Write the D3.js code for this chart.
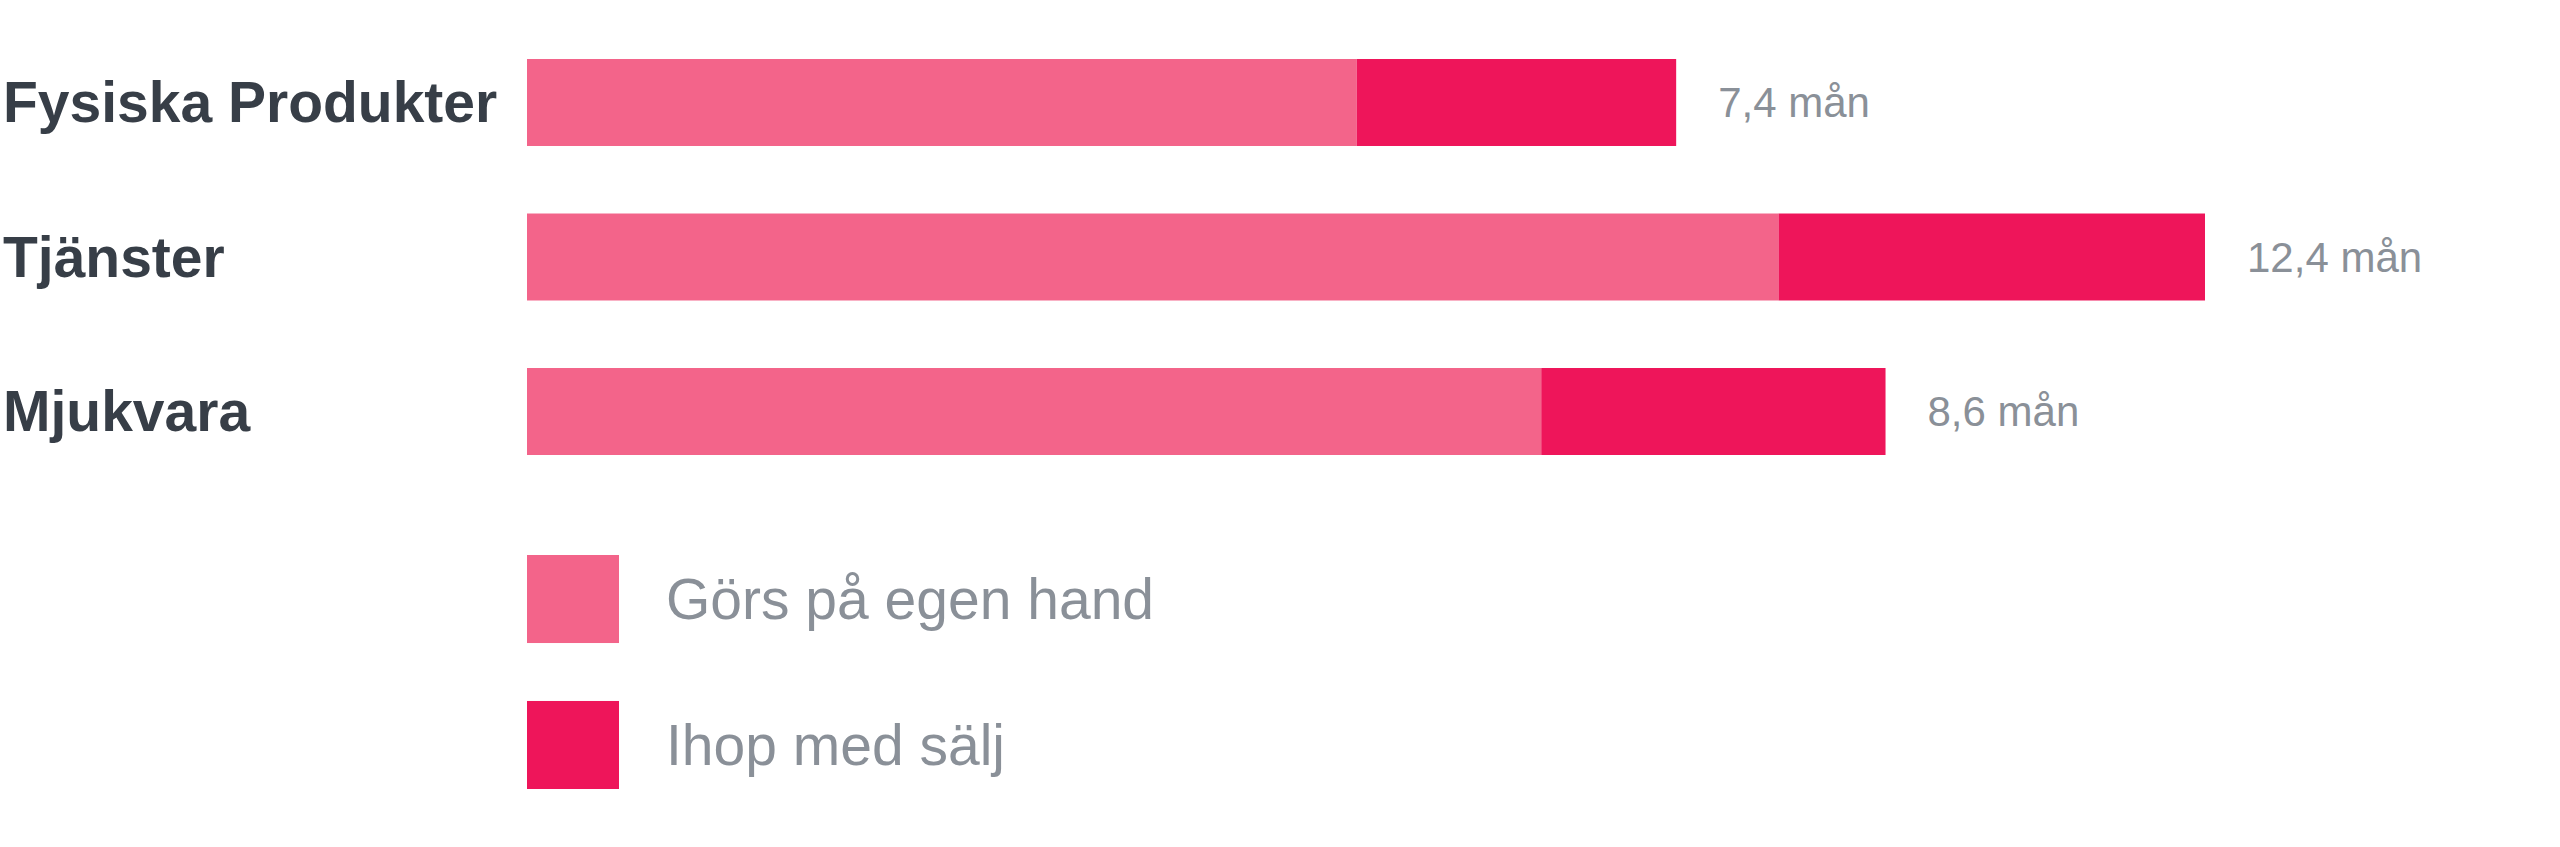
<!DOCTYPE html>
<html>
<head>
<meta charset="utf-8">
<script src="https://cdn.jsdelivr.net/npm/d3@7"></script>
<style>
  body { margin: 0; background: #fff; }
  svg { display: block; font-family: "Liberation Sans", Arial, sans-serif; }
</style>
</head>
<body>
<svg id="chart" width="2560" height="847"></svg>
<script>
// categories, top to bottom
const categories = ["Fysiska Produkter", "Tjänster", "Mjukvara"]
// bar segments (bar length units)
const selfValues = [5.35, 8.07, 6.54]
const salesValues = [2.06, 2.75, 2.22]
// printed totals
const totalLabels = ["7,4 mån", "12,4 mån", "8,6 mån"]
const seriesNames = ["Görs på egen hand", "Ihop med sälj"]
const seriesColors = ["#f3648a", "#ee155a"]

const svg = d3.select("#chart")

const rows = categories.map((c, i) => ({
    cat: c,
    self: selfValues[i],
    sales: salesValues[i],
    label: totalLabels[i]
}))

const stack = d3.stack().keys(["self", "sales"])(rows)

const x = d3.scaleLinear()
    .domain([0, d3.max(rows, d => d.self + d.sales)])
    .range([527, 2205])

const y = d3.scaleBand()
    .domain(categories)
    .range([59, 455])
    .paddingInner(0.437)
    .paddingOuter(0)

const color = d3.scaleOrdinal()
    .domain(["self", "sales"])
    .range(seriesColors)

// bars
svg.append("g")
    .selectAll("g")
    .data(stack)
    .join("g")
    .attr("fill", d => color(d.key))
    .selectAll("rect")
    .data(d => d)
    .join("rect")
    .attr("x", d => x(d[0]))
    .attr("y", d => y(d.data.cat))
    .attr("width", d => x(d[1]) - x(d[0]))
    .attr("height", y.bandwidth())

// category labels
svg.append("g")
    .selectAll("text")
    .data(rows)
    .join("text")
    .attr("x", 3)
    .attr("y", d => y(d.cat) + y.bandwidth() / 2)
    .attr("dy", "0.35em")
    .attr("font-size", 57)
    .attr("font-weight", "bold")
    .attr("fill", "#373e47")
    .text(d => d.cat)

// total labels
svg.append("g")
    .selectAll("text")
    .data(rows)
    .join("text")
    .attr("x", d => x(d.self + d.sales) + 42)
    .attr("y", d => y(d.cat) + y.bandwidth() / 2)
    .attr("dy", "0.35em")
    .attr("font-size", 42)
    .attr("fill", "#8a9098")
    .text(d => d.label)

// legend
const ly = d3.scaleBand()
    .domain(seriesNames)
    .range([555, 789])
    .paddingInner(0.397)
    .paddingOuter(0)

const legend = svg.append("g")
    .selectAll("g")
    .data(seriesNames)
    .join("g")
    .attr("transform", d => `translate(527,${ly(d)})`)

legend.append("rect")
    .attr("width", 92)
    .attr("height", ly.bandwidth())
    .attr("fill", (d, i) => seriesColors[i])

legend.append("text")
    .attr("x", 139)
    .attr("y", ly.bandwidth() / 2)
    .attr("dy", "0.35em")
    .attr("font-size", 57)
    .attr("fill", "#8a9098")
    .text(d => d)
</script>
</body>
</html>
